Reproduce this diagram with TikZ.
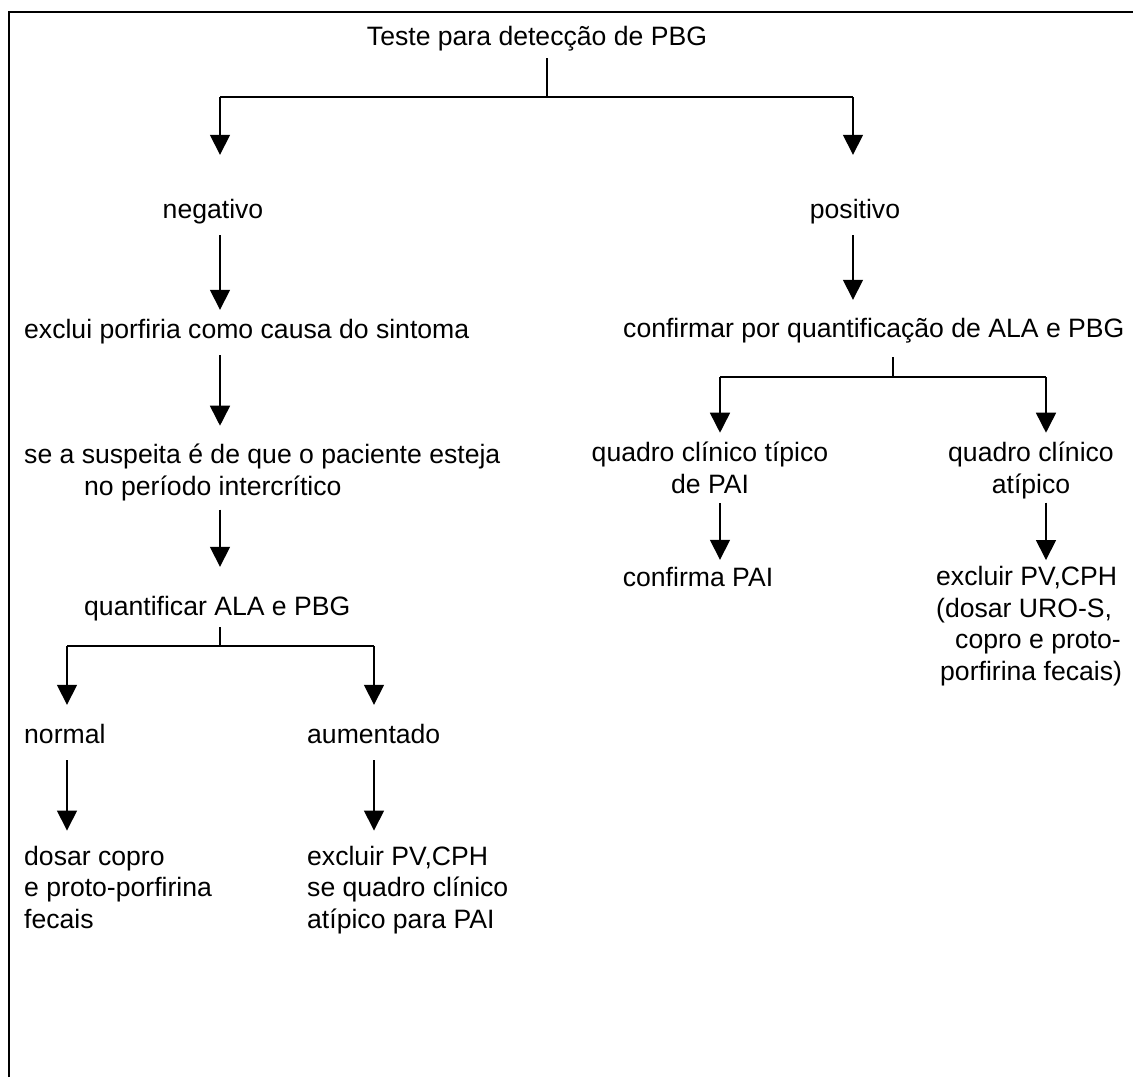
\documentclass[tikz,border=0pt]{standalone}
\usepackage{fontspec}
\setmainfont{Liberation Sans}
\usetikzlibrary{arrows.meta}

\begin{document}
\begin{tikzpicture}[x=1pt,y=-1pt,
    txt/.style={font=\fontsize{26.6}{31.5}\selectfont, inner sep=0pt},
    zeile/.style={txt, text height=20pt, text depth=6pt},
    linie/.style={line width=1.6pt},
    pfeil/.style={linie, -{Triangle[width=20pt,length=20pt]}}]
\useasboundingbox (0,0) rectangle (1133,1077);
    % Rahmen:
    \draw[line width=2.5pt] (9,1077) -- (9,12) -- (1133,12);

    % Kopf:
    \node[zeile, anchor=base] (teste) at (537,45) {Teste para detecção de PBG};
    \coordinate (gabel) at (547,97);
    \coordinate (xneg) at (220,97);
    \coordinate (xpos) at (853,97);
    \node[zeile, anchor=base] (neg) at (213,218) {negativo};
    \node[zeile, anchor=base] (pos) at (855,218) {positivo};
\draw[linie] ([yshift=-7pt]teste.south -| gabel) -- (gabel);
\draw[linie] (xneg) -- (xpos);
\draw[pfeil] (xneg) -- ([yshift=43pt]neg.north -| xneg);
\draw[pfeil] (xpos) -- ([yshift=43pt]pos.north -| xpos);

    % linker Zweig (base = letzte Zeile):
    \node[zeile, anchor=base west] (excl) at (24,338) {exclui porfiria como causa do sintoma};
    \node[txt, anchor=base west, align=left] (susp) at (24,495)
        {se a suspeita é de que o paciente esteja\\\hspace*{60pt}no período intercrítico};
    \node[zeile, anchor=base west] (quant) at (84,615) {quantificar ALA e PBG};
\draw[pfeil] ([yshift=-11pt]neg.south -| xneg) -- ([yshift=8pt]excl.north -| xneg);
\draw[pfeil] ([yshift=-11pt]excl.south -| xneg) -- ([yshift=18pt]susp.north -| xneg);
\draw[pfeil] ([yshift=-9pt]susp.south -| xneg) -- ([yshift=28pt]quant.north -| xneg);

    \coordinate (qgabel) at (220,646);
    \coordinate (xnorm) at (67,646);
    \coordinate (xaum) at (374,646);
    \node[zeile, anchor=base west] (norm) at (24,743) {normal};
    \node[zeile, anchor=base west] (aum) at (307,743) {aumentado};
    \node[txt, anchor=base west, align=left] (dosar) at (24,928)
        {dosar copro\\e proto-porfirina\\fecais};
    \node[txt, anchor=base west, align=left] (exclL) at (307,928)
        {excluir PV,CPH\\se quadro clínico\\atípico para PAI};
\draw[linie] ([yshift=-6pt]quant.south -| qgabel) -- (qgabel);
\draw[linie] (xnorm) -- (xaum);
\draw[pfeil] (xnorm) -- ([yshift=18pt]norm.north -| xnorm);
\draw[pfeil] (xaum) -- ([yshift=18pt]aum.north -| xaum);
\draw[pfeil] ([yshift=-11pt]norm.south -| xnorm) -- ([yshift=15pt]dosar.north -| xnorm);
\draw[pfeil] ([yshift=-11pt]aum.south -| xaum) -- ([yshift=15pt]exclL.north -| xaum);

    % rechter Zweig:
    \node[zeile, anchor=base west] (conf) at (623,337) {confirmar por quantificação de ALA e PBG};
\draw[pfeil] ([yshift=-11pt]pos.south -| xpos) -- ([yshift=17pt]conf.north -| xpos);
    \coordinate (cgabel) at (893,377);
    \coordinate (xtyp) at (720,377);
    \coordinate (xatyp) at (1046,377);
    \node[txt, anchor=base, align=center] (typ) at (710,493) {quadro clínico típico\\de PAI};
    \node[txt, anchor=base, align=center] (atyp) at (1031,493) {quadro clínico\\atípico};
    \node[zeile, anchor=base] (confPAI) at (698,586) {confirma PAI};
    \node[txt, anchor=base west, align=left] (exclR) at (936,680)
        {excluir PV,CPH\\(dosar URO-S,\\\hspace*{19pt}copro e proto-\\\hspace*{4pt}porfirina fecais)};
\draw[linie] ([yshift=-14pt]conf.south -| cgabel) -- (cgabel);
\draw[linie] (xtyp) -- (xatyp);
\draw[pfeil] (xtyp) -- ([yshift=9pt]typ.north -| xtyp);
\draw[pfeil] (xatyp) -- ([yshift=9pt]atyp.north -| xatyp);
\draw[pfeil] ([yshift=-10pt]typ.south -| xtyp) -- ([yshift=6pt]confPAI.north -| xtyp);
\draw[pfeil] ([yshift=-4pt]atyp.south -| xatyp) -- ([yshift=6pt]exclR.north -| xatyp);
\end{tikzpicture}
\end{document}
